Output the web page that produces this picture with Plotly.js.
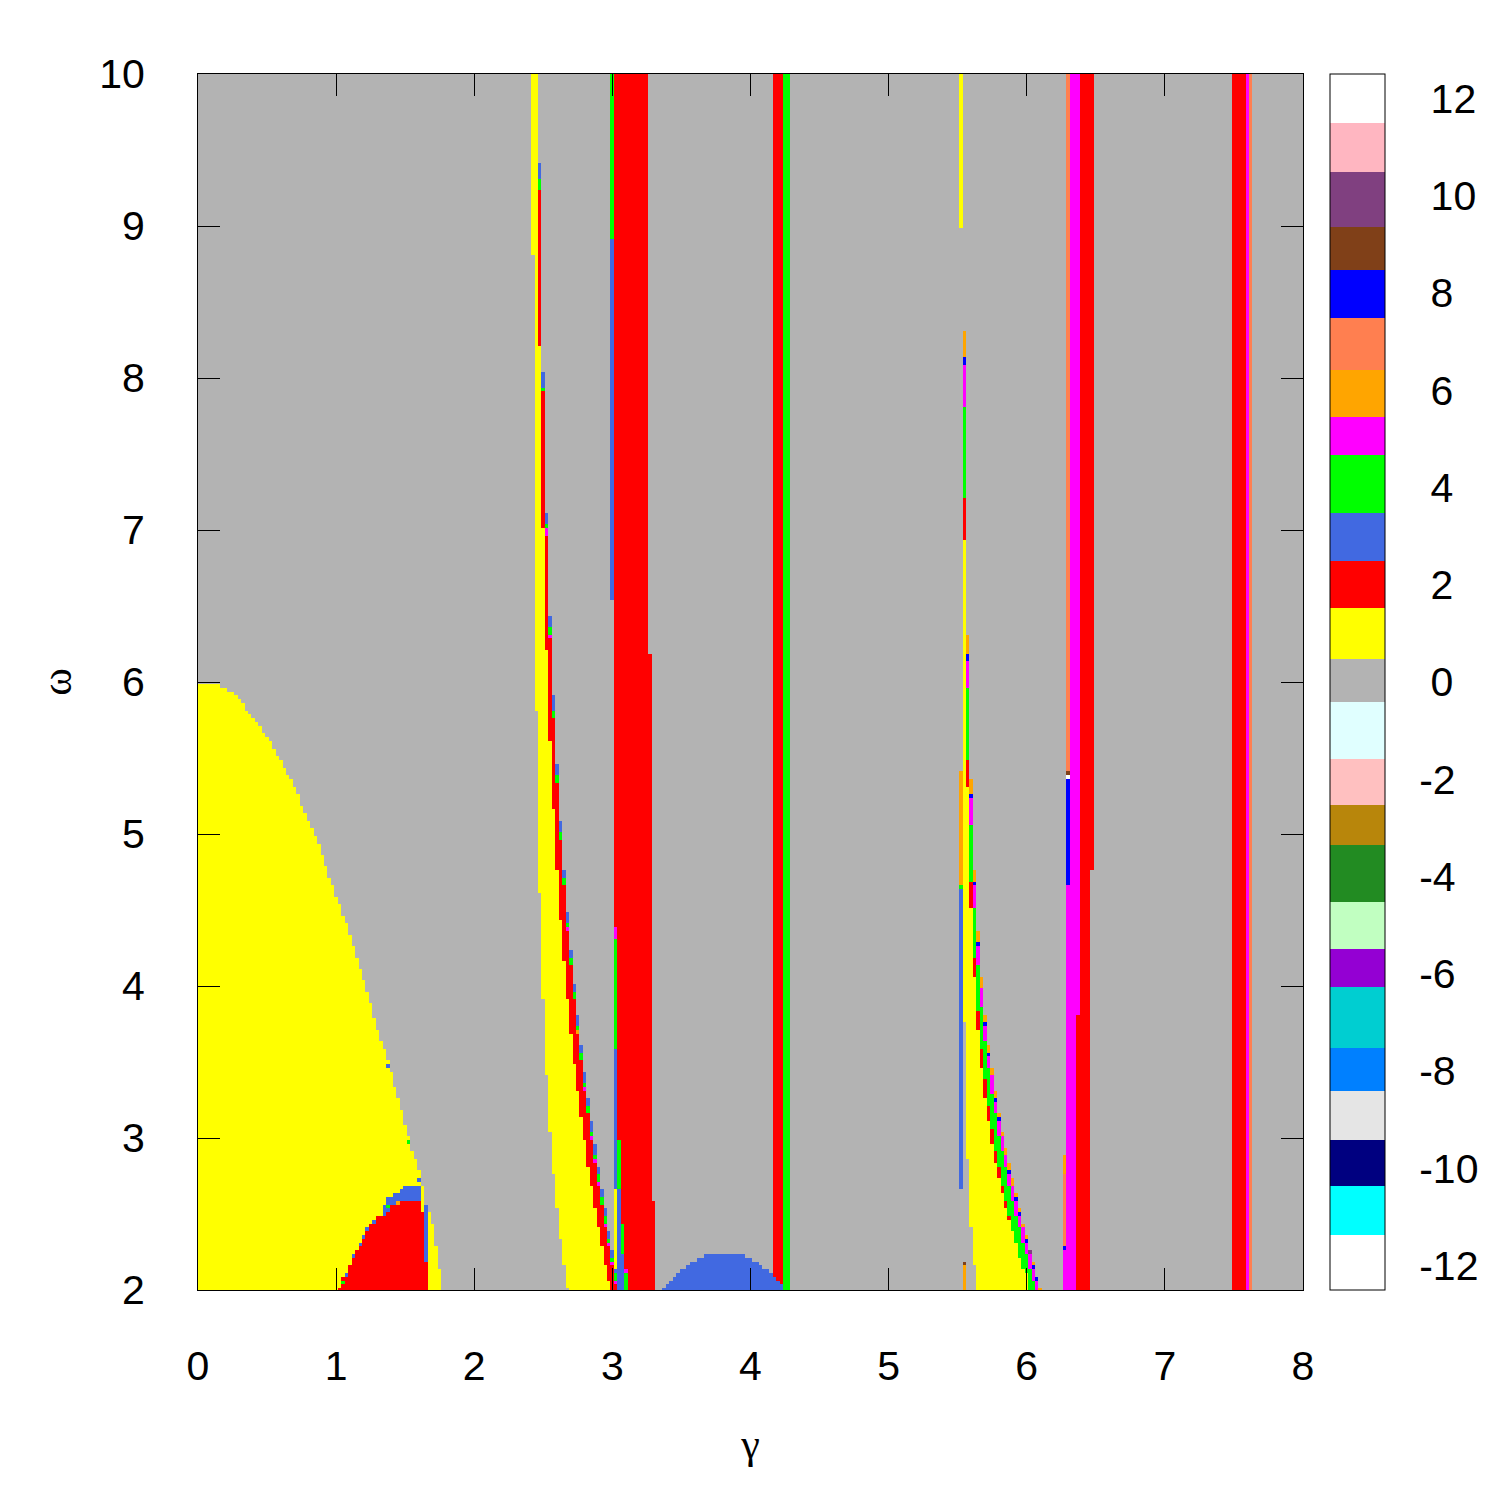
<!DOCTYPE html>
<html><head><meta charset="utf-8">
<script src="https://cdn.plot.ly/plotly-3.0.1.min.js"></script>
<style>body{margin:0;background:#fff}</style>
</head><body><div id="chart" style="width:1500px;height:1500px"></div>
<script>
// ---------------- DATA ----------------
// colour bar: values -12..12, class boundaries and colours (ascending)
const cbBounds = [-12.5,-11.36,-10.37,-9.41,-8.41,-7.53,-6.27,-5.49,-4.52,-3.35,-2.53,-1.59,-0.41,0.48,1.53,2.48,3.47,4.67,5.45,6.42,7.49,8.48,9.36,10.49,11.50,12.5];
const cbColors = ['#ffffff','#00ffff','#000080','#e5e5e5','#0080ff','#00ced1','#9400d3','#c1ffc1','#228b22','#b8860b','#ffc0c0','#e0ffff','#b3b3b3','#ffff00','#ff0000','#4169e1','#00ff00','#ff00ff','#ffa500','#ff7f50','#0000ff','#804018','#804080','#ffb6c1','#ffffff'];
const cbTickVals = [-12,-10,-8,-6,-4,-2,0,2,4,6,8,10,12];
const cbTickText = ['-12','-10','-8','-6','-4','-2','\u00a00','\u00a02','\u00a04','\u00a06','\u00a08','\u00a010','\u00a012'];
const xTicks = [0,1,2,3,4,5,6,7,8];
const yTicks = [2,3,4,5,6,7,8,9,10];

// big yellow lobe (value 1), polygon vertices (gamma, omega)
const lobeG = [-0.1,-0.1,0.08,0.16,0.25,0.31,0.43,0.53,0.63,0.71,0.78,0.86,0.93,1.00,1.08,1.16,1.23,1.30,1.38,1.46,1.51,1.56,1.59,1.62,1.64,1.70,1.73,1.76,1.78];
const lobeW = [1.9,5.99,5.99,5.975,5.93,5.87,5.73,5.60,5.43,5.30,5.12,4.97,4.77,4.59,4.40,4.17,3.94,3.72,3.49,3.24,3.06,2.89,2.81,2.72,2.60,2.45,2.25,2.10,1.9];
// blue cap above the red dome (value 3)
const capG = [1.33,1.37,1.42,1.47,1.51,1.615,1.615,1.33];
const capW = [2.50,2.60,2.625,2.65,2.695,2.695,2.50,2.50];
// red dome (value 2)
const domeG = [0.99,1.04,1.06,1.09,1.11,1.14,1.16,1.185,1.21,1.235,1.26,1.31,1.34,1.385,1.46,1.61,1.61,1.635,1.635,1.66,1.66];
const domeW = [1.9,2.06,2.10,2.14,2.19,2.24,2.29,2.33,2.37,2.41,2.44,2.49,2.51,2.54,2.595,2.595,2.52,2.52,2.19,2.19,1.9];
// single cells (gamma, omega, value)
const cellG = [1.35,1.375,1.35,1.275,1.225,1.2,1.175,1.125,1.075,1.05,1.375,1.525,1.6,1.45,1.375];
const cellW = [2.525,2.525,2.5,2.45,2.4,2.35,2.3,2.225,2.1,2.05,3.475,2.975,2.725,2.575,2.55];
const cellV = [3,3,3,3,3,3,3,3,3,4,3,4,3,6,4];

// band A (gamma 2.4-3.0): per column, omega where each colour begins (top), and where the column ends
const bandAG      = [2.425,2.45,2.475,2.5,2.525,2.55,2.575,2.6,2.625,2.65,2.675,2.7,2.725,2.75,2.775,2.8,2.825,2.85,2.875,2.9,2.925,2.95,2.975,3.0];
const bandABlue   = [null,null,9.42,8.04,7.12,6.44,5.92,5.47,5.09,4.77,4.49,4.24,4.02,3.81,3.61,3.44,3.27,3.11,2.96,2.82,2.66,2.54,2.39,2.26];
const bandAGreen  = [null,null,9.30,7.94,7.04,6.35,5.82,5.39,5.02,4.72,4.42,4.19,3.97,3.74,3.56,3.36,3.21,3.04,2.89,2.76,2.62,2.49,2.34,2.21];
const bandAOrange = [null,null,null,null,null,null,null,null,null,null,null,null,null,3.71,null,null,null,null,null,null,null,null,null,null];
const bandAMag    = [null,null,null,null,7.00,6.32,null,null,null,null,4.39,null,null,null,null,3.34,null,3.01,2.86,2.71,null,2.44,2.31,2.19];
const bandARed    = [null,null,9.24,7.90,6.97,6.29,5.77,5.34,4.97,4.67,4.37,4.14,3.92,3.69,3.52,3.31,3.16,2.99,2.83,2.69,2.56,2.41,2.29,2.16];
const bandAYellow = [10,10,8.22,7.01,6.22,5.62,5.15,4.77,4.44,4.17,3.92,3.69,3.49,3.31,3.14,2.99,2.82,2.69,2.54,2.41,2.29,2.16,2.05,null];
const bandAEnd    = [8.82,5.82,4.62,3.90,3.41,3.04,2.76,2.54,2.34,2.16,2.01,1.99,1.99,1.99,1.99,1.99,1.99,1.99,1.99,1.99,1.99,1.99,1.99,1.99];

// band B (gamma 5.5-6.1)
const bandBG      = [5.55,5.575,5.6,5.625,5.65,5.675,5.7,5.725,5.75,5.775,5.8,5.825,5.85,5.875,5.9,5.925,5.95,5.975,6.0,6.025,6.05,6.075,6.1];
const bandBOrange = [8.32,6.32,5.37,4.77,4.37,4.07,3.82,3.62,3.47,3.32,3.17,3.04,2.93,2.84,2.745,2.64,2.54,2.44,2.37,null,2.19,null,2.02];
const bandBBlue   = [8.145,6.19,5.27,4.69,4.285,null,3.77,3.57,3.42,3.27,3.14,3.01,null,2.79,null,2.62,2.515,null,2.34,null,2.165,2.095,null];
const bandBMag    = [8.09,6.14,5.245,4.67,4.267,3.995,3.743,3.54,3.40,3.245,3.12,3.0,2.89,2.76,2.69,2.59,2.49,2.42,2.32,2.24,2.14,2.07,null];
const bandBGreen  = [7.82,5.95,5.07,4.52,4.145,3.87,3.645,3.45,3.29,3.16,3.01,2.90,2.80,2.69,2.59,2.49,2.42,2.32,2.24,2.14,2.07,null,null];
const bandBRed    = [7.22,5.49,4.69,4.19,3.84,3.59,3.39,3.22,3.06,2.91,2.81,2.69,2.59,2.49,null,null,null,null,null,null,null,null,null];
const bandBYellow = [6.94,5.30,4.52,4.05,3.715,3.47,3.27,3.10,2.965,2.845,2.745,2.64,2.54,2.465,2.39,2.32,2.22,2.14,2.11,null,null,null,null];
const bandBEnd    = [3.77,2.87,2.42,2.16,1.99,1.99,1.99,1.99,1.99,1.99,1.99,1.99,1.99,1.99,1.99,1.99,1.99,1.99,1.99,1.99,1.99,1.99,1.99];

// vertical strips: gamma from..to, omega from (exclusive)..to, value
const stripG0 = [3.0,3.0,3.025,3.025,3.025,3.025,3.025,3.025,3.025,3.025,3.025,3.05,3.05,3.05,3.05,3.075,3.075,3.075,3.1,3.1,3.1,3.125,3.275,3.3,4.175,4.25,5.525,5.525,5.525,5.525,5.55,5.55,6.025,6.275,6.275,6.275,6.275,6.3,6.3,6.3,6.3,6.3,6.325,6.375,6.375,6.4,6.475,7.5,7.6,7.625];
const stripG1 = [3.0,3.0,3.025,3.025,3.025,3.025,3.025,3.025,3.025,3.025,3.025,3.05,3.05,3.05,3.05,3.075,3.075,3.075,3.1,3.1,3.1,3.25,3.275,3.3,4.225,4.275,5.525,5.525,5.525,5.525,5.55,5.55,6.025,6.275,6.275,6.275,6.275,6.3,6.3,6.3,6.3,6.3,6.35,6.375,6.375,6.45,6.475,7.575,7.6,7.625];
const stripW0 = [8.92,6.54,4.39,4.315,3.59,2.66,2.14,2.11,2.07,2.04,1.99,2.995,2.975,2.66,1.99,2.44,2.24,1.99,2.14,2.11,1.99,1.99,1.99,1.99,1.99,1.99,8.99,4.67,4.645,2.664,2.165,1.99,2.24,2.75,2.29,2.26,1.99,5.42,5.39,5.36,4.67,1.99,1.99,3.82,1.99,1.99,4.75,1.99,1.99,1.99];
const stripW1 = [10,8.92,10,4.39,4.315,3.59,2.66,2.14,2.11,2.07,2.04,10,2.995,2.975,2.66,10,2.44,2.24,10,2.14,2.11,10,6.19,2.59,10,10,10,5.40,4.67,4.645,2.19,2.165,2.26,2.88,2.75,2.29,2.26,10,5.42,5.39,5.36,4.67,10,10,3.82,10,10,10,10,10];
const stripV  = [4,3,2,5,4,3,1,3,4,5,2,2,5,4,3,2,4,3,2,5,4,2,2,2,2,4,1,6,4,3,9,6,10,6,7,8,5,7,9,12,8,5,5,5,2,2,2,2,5,7];

// small blue dome near gamma 3.4-4.2: per row omega, gamma from..to (value 3)
const blueRowW  = [2.225,2.2,2.175,2.15,2.125,2.1,2.075,2.05,2.025,2.0];
const blueRowG0 = [3.675,3.625,3.575,3.55,3.5,3.475,3.45,3.425,3.4,3.375];
const blueRowG1 = [3.95,4.0,4.05,4.075,4.125,4.15,4.175,4.2,4.225,4.225];

// ---------------- grid (sampling of the map) ----------------
const STEP = 0.025;
const gam = [], om = [];
for (let i = 0; i <= 320; i++) gam.push(Math.round(i * STEP * 1000) / 1000);
for (let j = 0; j <= 320; j++) om.push(Math.round((2 + j * STEP) * 1000) / 1000);
const z = om.map(() => gam.map(() => 0));
const EPS = 1e-6;

function inPoly(x, y, px, py) {
  let inside = false;
  for (let i = 0, j = px.length - 1; i < px.length; j = i++) {
    if (((py[i] > y) !== (py[j] > y)) && (x < (px[j] - px[i]) * (y - py[i]) / (py[j] - py[i]) + px[i])) inside = !inside;
  }
  return inside;
}
function paintPoly(px, py, v) {
  for (let j = 0; j < om.length; j++) for (let i = 0; i < gam.length; i++)
    if (inPoly(gam[i], om[j], px, py)) z[j][i] = v;
}
function paintRect(g0, g1, w0, w1, v) {
  for (let j = 0; j < om.length; j++) {
    if (!(om[j] > w0 + EPS && om[j] <= w1 + EPS)) continue;
    for (let i = 0; i < gam.length; i++)
      if (gam[i] >= g0 - EPS && gam[i] <= g1 + EPS) z[j][i] = v;
  }
}
function paintBand(G, layers, end) {
  G.forEach((g, k) => {
    const segs = layers.filter(L => L[1][k] !== null).map(L => [L[1][k], L[0]]).sort((a, b) => b[0] - a[0]);
    segs.forEach((s, n) => {
      const lo = n + 1 < segs.length ? segs[n + 1][0] : end[k];
      paintRect(g, g, lo, s[0], s[1]);
    });
  });
}

paintPoly(lobeG, lobeW, 1);
paintPoly(capG, capW, 3);
paintPoly(domeG, domeW, 2);
paintRect(1.65, 1.65, 2.19, 2.55, 3);
cellG.forEach((g, k) => paintRect(g, g, cellW[k] - 0.01, cellW[k] + 0.01, cellV[k]));
paintBand(bandAG, [[3, bandABlue], [4, bandAGreen], [6, bandAOrange], [5, bandAMag], [2, bandARed], [1, bandAYellow]], bandAEnd);
stripG0.forEach((g, k) => paintRect(g, stripG1[k], stripW0[k], stripW1[k], stripV[k]));
blueRowW.forEach((w, k) => paintRect(blueRowG0[k], blueRowG1[k], w - 0.01, w + 0.01, 3));
paintBand(bandBG, [[6, bandBOrange], [8, bandBBlue], [5, bandBMag], [4, bandBGreen], [2, bandBRed], [1, bandBYellow]], bandBEnd);

// ---------------- colour scale ----------------
const lo = cbBounds[0], hi = cbBounds[cbBounds.length - 1];
const cscale = [];
cbColors.forEach((c, k) => {
  cscale.push([(cbBounds[k] - lo) / (hi - lo), c]);
  cscale.push([(cbBounds[k + 1] - lo) / (hi - lo), c]);
});

const FONT = 'Liberation Sans, Arial, sans-serif';
const trace = {
  type: 'heatmap', x: gam, y: om, z: z, zmin: lo, zmax: hi,
  colorscale: cscale, zsmooth: false, hoverinfo: 'skip',
  colorbar: {
    x: (1330 - 198) / 1105, xanchor: 'left', xpad: 0, ypad: 0,
    y: 0.5, yanchor: 'middle', len: 1, lenmode: 'fraction', thickness: 55,
    outlinewidth: 1, outlinecolor: '#000',
    tickmode: 'array', tickvals: cbTickVals, ticktext: cbTickText,
    ticks: 'outside', ticklen: 26, tickcolor: 'rgba(0,0,0,0)',
    tickfont: {family: FONT, size: 41, color: '#000'}
  }
};

// inner tick marks on both edges of the colour bar
const cbx0 = (1330 - 198) / 1105, cbx1 = (1385 - 198) / 1105, tl = 15 / 1105;
const shapes = [];
cbTickVals.forEach(v => {
  const yp = (v - lo) / (hi - lo);
  shapes.push({type: 'line', xref: 'paper', yref: 'paper', x0: cbx0, x1: cbx0 + tl, y0: yp, y1: yp, line: {color: '#000', width: 1}});
  shapes.push({type: 'line', xref: 'paper', yref: 'paper', x0: cbx1 - tl, x1: cbx1, y0: yp, y1: yp, line: {color: '#000', width: 1}});
});

const axisCommon = {
  ticks: 'inside', ticklen: 22, tickwidth: 1, tickcolor: '#000',
  showline: true, linecolor: '#000', linewidth: 1, mirror: 'ticks',
  showgrid: false, zeroline: false, tickmode: 'array',
  tickfont: {family: FONT, size: 41, color: '#000'}
};
const layout = {
  width: 1500, height: 1500,
  margin: {l: 198, r: 197, t: 74, b: 210, pad: 0},
  paper_bgcolor: '#fff', plot_bgcolor: '#b3b3b3',
  showlegend: false,
  xaxis: Object.assign({}, axisCommon, {
    range: [0, 8], tickvals: xTicks, ticklabelstandoff: 40,
    title: {text: 'γ', font: {family: 'Liberation Serif, serif', size: 42, color: '#000'}, standoff: 40}
  }),
  yaxis: Object.assign({}, axisCommon, {
    range: [2, 10], tickvals: yTicks, ticklabelstandoff: 44,
    title: {text: 'ω', font: {family: 'Liberation Serif, serif', size: 42, color: '#000'}, standoff: 14}
  }),
  shapes: shapes
};
Plotly.newPlot('chart', [trace], layout, {staticPlot: true, displayModeBar: false});
</script></body></html>
